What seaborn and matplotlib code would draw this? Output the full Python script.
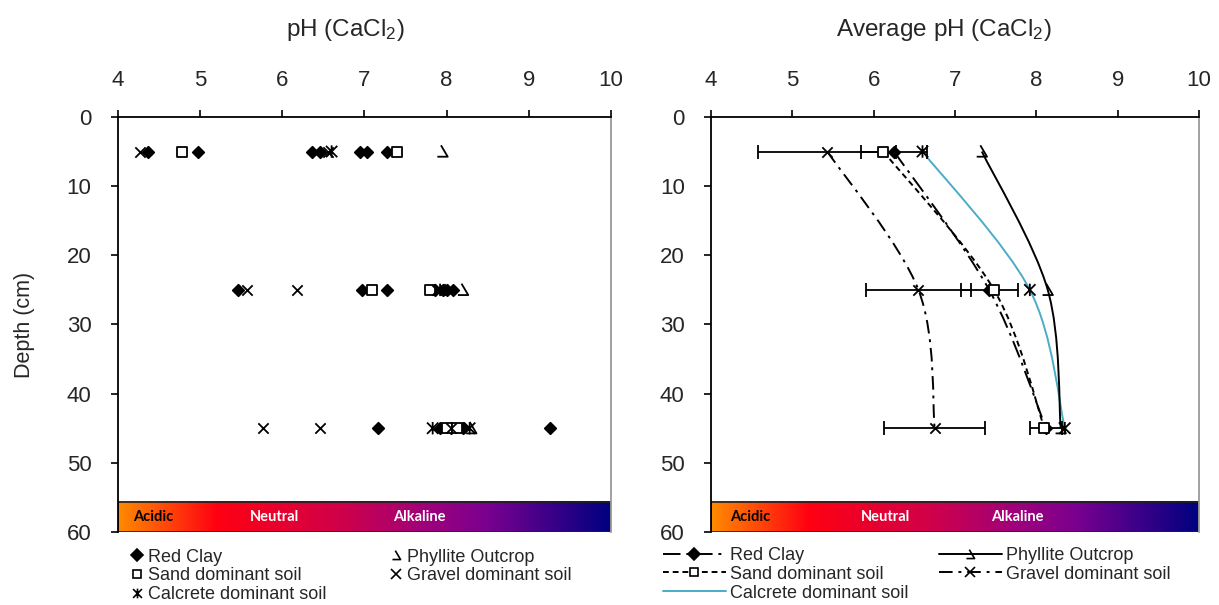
import numpy as np
import pandas as pd
import matplotlib
matplotlib.use("Agg")
import matplotlib.pyplot as plt
import seaborn as sns
from matplotlib.path import Path
from matplotlib.patches import PathPatch, Rectangle
from matplotlib.lines import Line2D
from matplotlib.colors import LinearSegmentedColormap

sns.set_theme(style="white")
plt.rcParams["font.family"] = ["Liberation Sans", "DejaVu Sans"]
plt.rcParams["mathtext.fontset"] = "custom"
plt.rcParams["mathtext.rm"] = "Liberation Sans"
plt.rcParams["mathtext.it"] = "Liberation Sans:italic"

# ---------------- data ----------------
depths = [5, 25, 45]
soils = ["Red Clay", "Sand dominant soil", "Calcrete dominant soil",
         "Phyllite Outcrop", "Gravel dominant soil"]

# individual samples (pH CaCl2) per soil type and depth
red_clay_5 = [4.37, 4.97, 6.36, 6.46, 6.95, 7.03, 7.27]
red_clay_25 = [5.46, 6.97, 7.27, 7.86, 7.96, 8.08, 8.0]
red_clay_45 = [7.17, 7.92, 9.26, 8.05, 8.2]
sand_5 = [4.78, 7.39]
sand_25 = [7.09, 7.80]
sand_45 = [8.00, 8.13]
gravel_5 = [4.27, 6.56]
gravel_25 = [5.57, 6.18, 7.88]
gravel_45 = [5.77, 6.46, 8.05]
calcrete_5 = [6.60]
calcrete_25 = [7.92]
calcrete_45 = [7.83, 8.28]
phyllite_5 = [7.95]
phyllite_25 = [8.20]
phyllite_45 = [8.30]

# averages per depth (5, 25, 45 cm)
avg_red_clay = [6.25, 7.42, 8.12]
avg_sand = [6.12, 7.48, 8.10]
avg_gravel = [5.43, 6.55, 6.75]
avg_calcrete = [6.60, 7.92, 8.35]
avg_phyllite = [7.33, 8.14, 8.30]

err_red_clay = [0.40, 0.35, 0.20]
err_gravel = [0.85, 0.65, 0.62]

x_ticks = [4, 5, 6, 7, 8, 9, 10]
y_ticks = [0, 10, 20, 30, 40, 50, 60]
band_labels = ["Acidic", "Neutral", "Alkaline"]

# ---------------- markers ----------------
phyllite_marker = Path([(-0.15, 0.6), (0.5, -0.5), (-0.5, -0.5)],
                       [Path.MOVETO, Path.LINETO, Path.LINETO])
calcrete_marker = Path([(-0.5, -0.5), (0.5, 0.5), (-0.5, 0.5), (0.5, -0.5),
                        (0, -0.55), (0, 0.55)],
                       [Path.MOVETO, Path.LINETO, Path.MOVETO, Path.LINETO,
                        Path.MOVETO, Path.LINETO])

style = {
    "Red Clay": dict(marker="D", fc="black", ec="black", s=34, ls=(0, (9, 3, 1.5, 3))),
    "Sand dominant soil": dict(marker="s", fc="white", ec="black", s=60, ls=(0, (3, 2))),
    "Calcrete dominant soil": dict(marker=calcrete_marker, fc="none", ec="black", s=80, ls="-"),
    "Phyllite Outcrop": dict(marker=phyllite_marker, fc="none", ec="black", s=80, ls="-"),
    "Gravel dominant soil": dict(marker="x", fc="black", ec="black", s=55, ls=(0, (7, 3, 1.5, 3))),
}
line_colors = {"Red Clay": "black", "Sand dominant soil": "black",
               "Calcrete dominant soil": "#4bacc6", "Phyllite Outcrop": "black",
               "Gravel dominant soil": "black"}

samples = {
    "Red Clay": [red_clay_5, red_clay_25, red_clay_45],
    "Sand dominant soil": [sand_5, sand_25, sand_45],
    "Calcrete dominant soil": [calcrete_5, calcrete_25, calcrete_45],
    "Phyllite Outcrop": [phyllite_5, phyllite_25, phyllite_45],
    "Gravel dominant soil": [gravel_5, gravel_25, gravel_45],
}
averages = {
    "Red Clay": avg_red_clay, "Sand dominant soil": avg_sand,
    "Calcrete dominant soil": avg_calcrete, "Phyllite Outcrop": avg_phyllite,
    "Gravel dominant soil": avg_gravel,
}

rows = []
for soil in soils:
    for d, vals in zip(depths, samples[soil]):
        for v in vals:
            rows.append(dict(soil=soil, depth=d, ph=v))
df_samples = pd.DataFrame(rows)
df_avg = pd.DataFrame([dict(soil=s, depth=d, ph=v)
                       for s in soils for d, v in zip(depths, averages[s])])

cmap = LinearSegmentedColormap.from_list(
    "ph_band",
    [(0.0, "#ff8a00"), (0.2, "#ff0012"), (0.45, "#d0004a"),
     (0.62, "#a0007a"), (0.75, "#7a0090"), (1.0, "#000080")])

fig = plt.figure(figsize=(12.19, 6.05), dpi=100)
ax1 = fig.add_axes([0.0968, 0.1207, 0.4044, 0.686])
ax2 = fig.add_axes([0.5833, 0.1207, 0.4003, 0.686])


def smooth_path(xs, ys):
    """Catmull-Rom style cubic Bezier through the given points."""
    pts = np.column_stack([xs, ys]).astype(float)
    ext = np.vstack([pts[0], pts, pts[-1]])
    verts = [tuple(pts[0])]
    codes = [Path.MOVETO]
    for i in range(1, len(ext) - 2):
        p0, p1, p2, p3 = ext[i - 1], ext[i], ext[i + 1], ext[i + 2]
        c1 = p1 + (p2 - p0) / 6.0
        c2 = p2 - (p3 - p1) / 6.0
        verts += [tuple(c1), tuple(c2), tuple(p2)]
        codes += [Path.CURVE4] * 3
    return Path(verts, codes)


def draw_points(ax, data):
    for soil in soils:
        st = style[soil]
        sub = data[data.soil == soil]
        kw = dict(marker=st["marker"], s=st["s"], linewidth=1.3, zorder=5)
        if st["marker"] == "x":
            sns.scatterplot(data=sub, x="ph", y="depth", ax=ax, color="black", legend=False, **kw)
        else:
            sns.scatterplot(data=sub, x="ph", y="depth", ax=ax, legend=False,
                            facecolor=st["fc"], edgecolor=st["ec"], **kw)


def style_axes(ax, band_x, title, title_x):
    ax.set_xlim(4, 10)
    ax.set_ylim(60, 0)
    ax.set_xticks(x_ticks)
    ax.set_yticks(y_ticks)
    ax.xaxis.tick_top()
    ax.xaxis.set_label_position("top")
    ax.tick_params(axis="x", which="both", top=True, bottom=False, direction="out",
                   length=5, width=1.2, color="black", pad=14, labelsize=16)
    ax.tick_params(axis="y", left=True, direction="out", length=5, width=1.2,
                   color="black", pad=14, labelsize=16)
    for name in ["top", "left"]:
        ax.spines[name].set_color("black")
        ax.spines[name].set_linewidth(1.3)
    ax.spines["right"].set_color("#9a9a9a")
    ax.spines["right"].set_linewidth(1.3)
    ax.spines["bottom"].set_visible(False)
    ax.set_xlabel("")
    ax.set_ylabel("")
    # pH colour band
    grad = np.linspace(0, 1, 512).reshape(1, -1)
    ax.imshow(grad, cmap=cmap, aspect="auto", extent=[4, 10, 60, 55.6], zorder=1)
    ax.add_patch(Rectangle((4, 55.6), 6, 4.4, fill=False, ec="#202020", lw=1.2, zorder=2))
    for lab, xf in zip(band_labels, band_x):
        ax.text(xf, 57.8, lab, ha="center", va="center", fontsize=10.5,
                family=["Lato", "DejaVu Sans"], fontweight="bold",
                color="black" if lab == "Acidic" else "white", zorder=3)
    ax.text(title_x, 1.21, title, transform=ax.transAxes, ha="center",
            va="center", fontsize=17.5)


# ---------------- left panel: samples ----------------
draw_points(ax1, df_samples)
style_axes(ax1, [4.43, 5.9, 7.67], "pH (CaCl$_2$)", 0.462)
ax1.set_ylabel("Depth (cm)", fontsize=15.5, labelpad=23)

# ---------------- right panel: averages ----------------
for soil in soils:
    st = style[soil]
    patch = PathPatch(smooth_path(averages[soil], depths), fill=False,
                      ec=line_colors[soil], lw=1.4, ls=st["ls"], zorder=3)
    ax2.add_patch(patch)
ax2.errorbar(avg_red_clay, depths, xerr=err_red_clay, fmt="none", ecolor="black",
             elinewidth=1.3, capsize=5, capthick=1.3, zorder=4)
ax2.errorbar(avg_gravel, depths, xerr=err_gravel, fmt="none", ecolor="black",
             elinewidth=1.3, capsize=5, capthick=1.3, zorder=4)
draw_points(ax2, df_avg)
style_axes(ax2, [4.48, 6.15, 7.76], "Average pH (CaCl$_2$)", 0.477)


# ---------------- legends ----------------
def marker_handle(soil, with_line):
    st = style[soil]
    mk = st["marker"]
    fc = st["fc"] if mk != "x" else "black"
    return Line2D([], [], color=line_colors[soil] if with_line else "black",
                  ls=st["ls"] if with_line else "none", lw=1.4,
                  marker=mk, markersize=6 if mk in ("D", "s") else 7,
                  markerfacecolor=fc, markeredgecolor="black", markeredgewidth=1.2)


order = soils  # column-major fill puts Red Clay / Phyllite on the first row
h1 = [marker_handle(s, False) for s in order]
h2 = [marker_handle(s, True) for s in order]
h2[2] = Line2D([], [], color="#4bacc6", lw=1.4)

ax1.legend(h1, order, loc="upper left", bbox_to_anchor=(0.0276, -0.04), ncol=2,
           frameon=False, fontsize=13, handlelength=0.6, handletextpad=0.3,
           columnspacing=3.55, labelspacing=0.1, borderaxespad=0, borderpad=0)
ax2.legend(h2, order, loc="upper left", bbox_to_anchor=(-0.098, -0.036), ncol=2,
           frameon=False, fontsize=13, handlelength=3.45, handletextpad=0.25,
           columnspacing=1.7, labelspacing=0.1, borderaxespad=0, borderpad=0)

fig.savefig("out.png", dpi=100)
